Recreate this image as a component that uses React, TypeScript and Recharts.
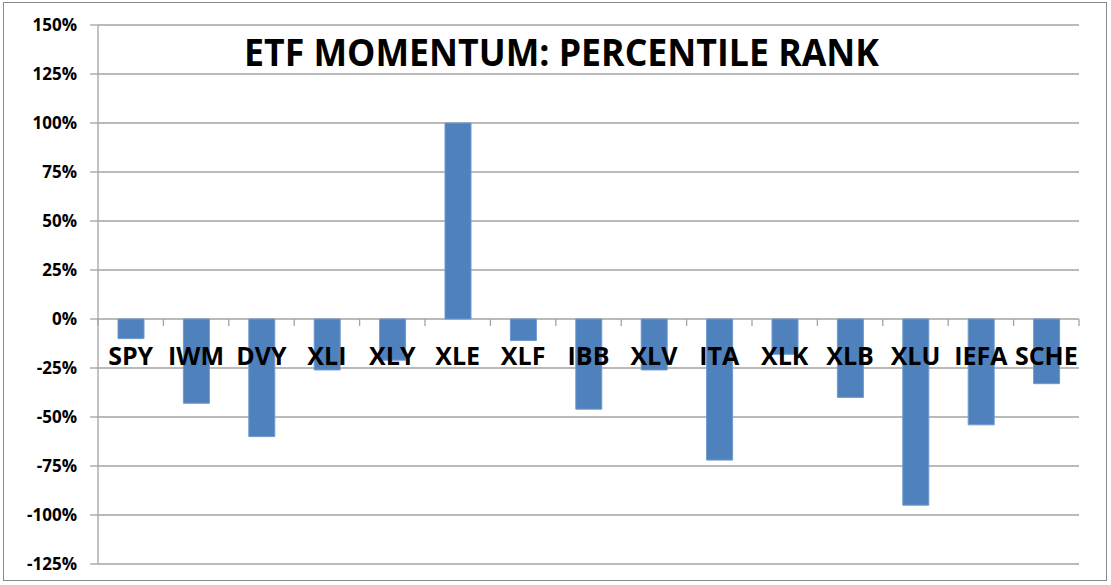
import React from "react";
import { BarChart, Bar, XAxis, YAxis, CartesianGrid } from "recharts";

const categories = ["SPY", "IWM", "DVY", "XLI", "XLY", "XLE", "XLF", "IBB", "XLV", "ITA", "XLK", "XLB", "XLU", "IEFA", "SCHE"];
const rankValues = [-10, -43, -60, -26, -21, 100, -11, -46, -26, -72, -18, -40, -95, -54, -33];
const yTicks = [-125, -100, -75, -50, -25, 0, 25, 50, 75, 100, 125, 150];
const titleText = "ETF MOMENTUM: PERCENTILE RANK";

const data = categories.map((name, i) => ({ name, value: rankValues[i] }));

const W = 1111;
const H = 585;
const X_AXIS_H = 1;
const MARGIN = { top: 25, right: 32, bottom: 20, left: 0 };
const Y_AXIS_W = 98;
const Y_MIN = -125;
const Y_MAX = 150;
const PLOT_H = H - MARGIN.top - MARGIN.bottom - X_AXIS_H;
const PLOT_W = W - MARGIN.left - MARGIN.right - Y_AXIS_W;
const BAND = PLOT_W / categories.length;
const ZERO_Y = MARGIN.top + (PLOT_H * (Y_MAX - 0)) / (Y_MAX - Y_MIN);
const FONT = "'Open Sans', 'Noto Sans', sans-serif";
const GRID = "#a3a3a3";

const CategoryTick = (props: any) => {
  const { x, index } = props;
  const value = props.payload?.value;
  const last = index === categories.length - 1;
  return (
    <g>
      <line x1={x - BAND / 2} x2={x - BAND / 2} y1={ZERO_Y} y2={ZERO_Y + 7} stroke={GRID} strokeWidth={1.3} />
      {last && <line x1={x + BAND / 2} x2={x + BAND / 2} y1={ZERO_Y} y2={ZERO_Y + 7} stroke={GRID} strokeWidth={1.3} />}
      <text
        x={x}
        y={ZERO_Y + 46}
        textAnchor="middle"
        fontFamily={FONT}
        fontWeight={700}
        fontSize={25}
        fill="#000"
      >
        {value}
      </text>
    </g>
  );
};

export default function App() {
  return (
    <div style={{ position: "absolute", left: 0, top: 0, width: W, height: H, background: "#fff" }}>
      <div
        style={{
          position: "absolute",
          left: 3,
          top: 2,
          width: 1104,
          height: 579,
          border: "1px solid #8a8a8a",
          boxSizing: "border-box",
        }}
      />
      <div style={{ position: "absolute", left: 0, top: 0 }}>
        <BarChart width={W} height={H} data={data} margin={MARGIN} barSize={26}>
          <CartesianGrid vertical={false} stroke={GRID} strokeWidth={1.3} />
          <XAxis
            dataKey="name"
            height={X_AXIS_H}
            axisLine={false}
            tickLine={false}
            interval={0}
            tick={<CategoryTick />}
          />
          <YAxis
            width={Y_AXIS_W}
            domain={[Y_MIN, Y_MAX]}
            ticks={yTicks}
            interval={0}
            tickFormatter={(v: number) => `${v}%`}
            axisLine={{ stroke: GRID, strokeWidth: 1.3 }}
            tickLine={{ stroke: GRID, strokeWidth: 1.3 }}
            tickSize={8}
            tickMargin={13}
            tick={{ fontFamily: FONT, fontWeight: 700, fontSize: 17, fill: "#000" }}
          />
          <Bar dataKey="value" fill="#4f81bd" stroke="#6f9ad0" strokeWidth={1} isAnimationActive={false} />
        </BarChart>
      </div>
      <svg width={W} height={H} style={{ position: "absolute", left: 0, top: 0, pointerEvents: "none" }}>
        <text
          x={244}
          y={66}
          textLength={635}
          lengthAdjust="spacingAndGlyphs"
          fontFamily={FONT}
          fontWeight={700}
          fontSize={38}
          fill="#000"
        >
          {titleText}
        </text>
      </svg>
    </div>
  );
}
